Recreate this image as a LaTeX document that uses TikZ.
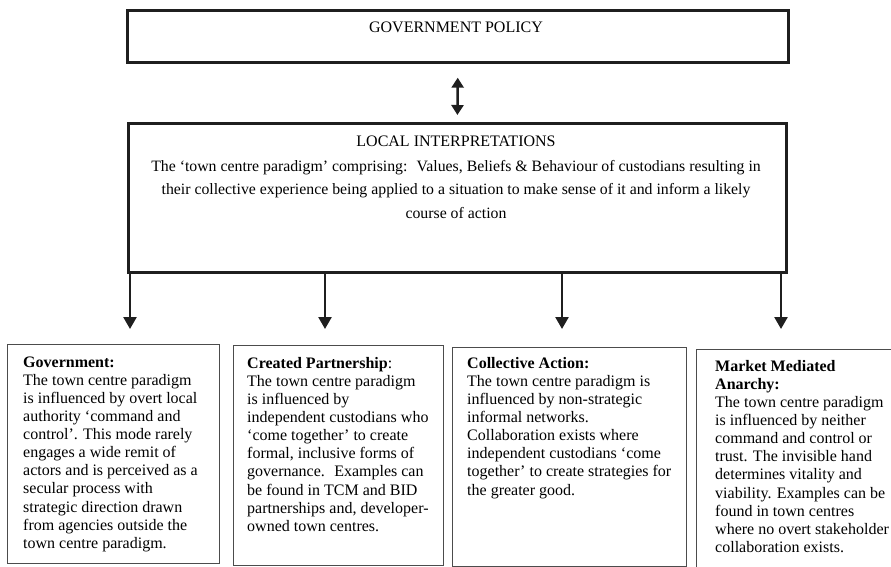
\documentclass[tikz,border=0pt]{standalone}
\usepackage{fontspec}
\setmainfont{Liberation Serif}
\usetikzlibrary{arrows.meta}
\begin{document}
\begin{tikzpicture}[x=1pt,y=-1pt,
  topbox/.style={draw=black!88, line width=2.7pt, rectangle, inner sep=0pt, anchor=north west},
  subbox/.style={draw=black!70, line width=1.2pt, rectangle, inner sep=0pt, anchor=north west},
  flow/.style={line width=2.5pt, draw=black!88, -{Triangle[width=13pt,length=12pt]}},
  bothflow/.style={line width=2.5pt, draw=black!88,
    {Triangle[width=12pt,length=10pt]}-{Triangle[width=12pt,length=10pt]}},
  heading/.style={font=\fontsize{16}{19}\selectfont, inner sep=0pt},
  para/.style={font=\fontsize{15.8}{23.5}\selectfont, align=center, inner sep=0pt, anchor=north},
  body/.style={font=\fontsize{16}{18.1}\selectfont, align=left, inner sep=0pt, anchor=north west},
]
\useasboundingbox (0,0) rectangle (891,567);

% upper level: policy and its local reading
\node[topbox, minimum width=661pt, minimum height=52pt] (gov) at (126,9) {};
\node[heading] (govtext) at (456,27) {GOVERNMENT POLICY};

\node[topbox, minimum width=658pt, minimum height=149pt] (loc) at (127,122) {};
\node[heading] (loctitle) at (456,141) {LOCAL INTERPRETATIONS};
\node[para] (locpara) at (456,160) {The ‘town centre paradigm’ comprising:~ Values, Beliefs \& Behaviour of custodians resulting in\\
their collective experience being applied to a situation to make sense of it and inform a likely\\
course of action};

\draw[bothflow, shorten <=14pt, shorten >=7pt] (gov.south) -- (loc.north);

% four modes of governance
\node[subbox, minimum width=212pt, minimum height=219pt] (mgov) at (7,344) {};
\node[subbox, minimum width=210pt, minimum height=220pt] (mpart) at (233,345) {};
\node[subbox, minimum width=234pt, minimum height=219pt] (mcoll) at (452,347) {};
\node[subbox, minimum width=220pt, minimum height=232pt] (mmark) at (696,349) {};

\node[body] (tgov) at (23,356.5) {\textbf{Government:}\\
The town centre paradigm\\
is influenced by overt local\\
authority ‘command and\\
control’. This mode rarely\\
engages a wide remit of\\
actors and is perceived as a\\
secular process with\\
strategic direction drawn\\
from agencies outside the\\
town centre paradigm.};

\node[body] (tpart) at (247,357) {\textbf{Created Partnership}:\\
The town centre paradigm\\
is influenced by\\
independent custodians who\\
‘come together’ to create\\
formal, inclusive forms of\\
governance.~ Examples can\\
be found in TCM and BID\\
partnerships and, developer-\\
owned town centres.};

\node[body] (tcoll) at (467,357) {\textbf{Collective Action:}\\
The town centre paradigm is\\
influenced by non-strategic\\
informal networks.\\
Collaboration exists where\\
independent custodians ‘come\\
together’ to create strategies for\\
the greater good.};

\node[body] (tmark) at (715,360) {\textbf{Market Mediated}\\
\textbf{Anarchy:}\\
The town centre paradigm\\
is influenced by neither\\
command and control or\\
trust. The invisible hand\\
determines vitality and\\
viability. Examples can be\\
found in town centres\\
where no overt stakeholder\\
collaboration exists.};

% arrows from the local reading down to each mode
\coordinate (tip1) at (130,329);
\coordinate (tip2) at (325,329);
\coordinate (tip3) at (562,329);
\coordinate (tip4) at (781,329);
\draw[flow] (loc.south -| tip1) -- (tip1);
\draw[flow] (loc.south -| tip2) -- (tip2);
\draw[flow] (loc.south -| tip3) -- (tip3);
\draw[flow] (loc.south -| tip4) -- (tip4);
\end{tikzpicture}
\end{document}
